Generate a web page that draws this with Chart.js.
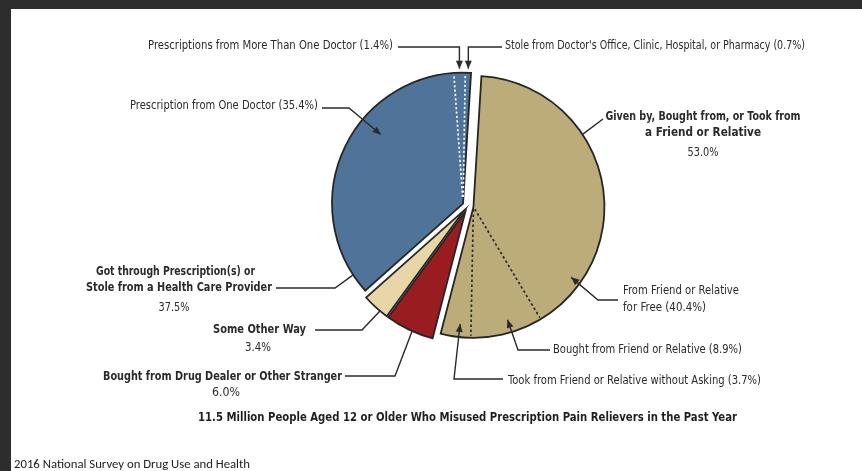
<!DOCTYPE html>
<html>
<head>
<meta charset="utf-8">
<script src="https://cdn.jsdelivr.net/npm/chart.js@4.4.1/dist/chart.umd.min.js"></script>
<style>
  html, body { margin: 0; padding: 0; background: #fff; }
  #wrap { position: relative; width: 862px; height: 471px; overflow: hidden; background: #fff; }
  #wrap canvas { position: absolute; left: 0; top: 0; }
  .bar { position: absolute; background: #2d2d2d; }
</style>
</head>
<body>
<div id="wrap">
  <canvas id="pie" width="862" height="471"></canvas>
  <div class="bar" style="left:0;top:0;width:862px;height:9px"></div>
  <div class="bar" style="left:0;top:0;width:11px;height:471px"></div>
</div>
<script>
// Main sources of misused pain relievers (percent of people), clockwise from the top
const groupLabels = [
  'Given by, Bought from, or Took from a Friend or Relative',
  'Bought from Drug Dealer or Other Stranger',
  'Some Other Way',
  'Got through Prescription(s) or Stole from a Health Care Provider'
];
const groupValues = [53.0, 6.0, 3.4, 37.5];

// Breakdown of the friend / relative slice
const friendLabels = [
  'From Friend or Relative for Free',
  'Bought from Friend or Relative',
  'Took from Friend or Relative without Asking'
];
const friendValues = [40.4, 8.9, 3.7];

// Breakdown of the health care provider slice
const providerLabels = [
  'Prescription from One Doctor',
  'Prescriptions from More Than One Doctor',
  "Stole from Doctor's Office, Clinic, Hospital, or Pharmacy"
];
const providerValues = [35.4, 1.4, 0.7];

const chartTitle = '11.5 Million People Aged 12 or Older Who Misused Prescription Pain Relievers in the Past Year';
const sourceNote = '2016 National Survey on Drug Use and Health';

const sliceColors = ['#bcac79', '#991c20', '#e8d6a8', '#50739a'];
const explode = [5.5, 6, 6, 5.5];

const NARROW = "'Liberation Sans Narrow', 'Arial Narrow', 'DejaVu Sans Condensed', sans-serif";
const INK = '#2a2a2a';

const pct = v => v.toFixed(1) + '%';

// Angle inside a slice, at fraction t of one of its parts
function partAngle(arc, parts, index, t) {
  const total = parts.reduce((a, b) => a + b, 0);
  let before = 0;
  for (let i = 0; i < index; i++) before += parts[i];
  const f = (before + t * parts[index]) / total;
  return arc.startAngle + f * (arc.endAngle - arc.startAngle);
}
function polar(arc, ang, rf) {
  return { x: arc.x + rf * arc.outerRadius * Math.cos(ang), y: arc.y + rf * arc.outerRadius * Math.sin(ang) };
}

// Text drawn to a set width
function fitText(ctx, text, x, y, align, width, font, color) {
  ctx.save();
  ctx.font = font;
  ctx.fillStyle = color || INK;
  ctx.textBaseline = 'middle';
  const w = ctx.measureText(text).width;
  const s = width ? width / w : 1;
  let left = x;
  if (align === 'right') left = x - w * s;
  else if (align === 'center') left = x - (w * s) / 2;
  ctx.translate(left, y);
  ctx.scale(s, 1);
  ctx.textAlign = 'left';
  ctx.fillText(text, 0, 0);
  ctx.restore();
}

const F_REG = '11.5px ' + NARROW;
const F_BOLD = 'bold 11.5px ' + NARROW;
const F_TITLE = 'bold 13px ' + NARROW;

// Callouts: text, leader path and where the leader meets the pie
const callouts = [
  { texts: [{ s: `${providerLabels[1]} (${pct(providerValues[1])})`, x: 393, y: 46, a: 'right', w: 245, f: F_REG }],
    anchor: { arc: 3, parts: providerValues, i: 1, t: 0.5, r: 1.03 }, arrow: true,
    path: tip => [[398, 47], [tip.x, 47]] },
  { texts: [{ s: `${providerLabels[2]} (${pct(providerValues[2])})`, x: 505, y: 46, a: 'left', w: 300, f: F_REG }],
    anchor: { arc: 3, parts: providerValues, i: 2, t: 0.5, r: 1.03 }, arrow: true,
    path: tip => [[502, 47], [tip.x, 47]] },
  { texts: [{ s: `${providerLabels[0]} (${pct(providerValues[0])})`, x: 318, y: 106, a: 'right', w: 188, f: F_REG }],
    anchor: { arc: 3, parts: providerValues, i: 0, t: 0.64, r: 0.82 }, arrow: true,
    path: () => [[322, 108], [349, 108]] },
  { texts: [
      { s: 'Given by, Bought from, or Took from', x: 703, y: 117, a: 'center', w: 195, f: F_BOLD },
      { s: 'a Friend or Relative', x: 703, y: 133, a: 'center', w: 116, f: F_BOLD },
      { s: pct(groupValues[0]), x: 703, y: 153, a: 'center', w: 31, f: F_REG }],
    anchor: { arc: 0, parts: [groupValues[0]], i: 0, t: 0.277, r: 1.0 }, arrow: false,
    path: () => [[603, 119]] },
  { texts: [
      { s: 'From Friend or Relative', x: 623, y: 291, a: 'left', w: 116, f: F_REG },
      { s: `for Free (${pct(friendValues[0])})`, x: 623, y: 308, a: 'left', w: 83, f: F_REG }],
    anchor: { arc: 0, parts: friendValues, i: 0, t: 0.84, r: 0.92 }, arrow: true,
    path: () => [[618, 300], [598, 300]] },
  { texts: [{ s: `${friendLabels[1]} (${pct(friendValues[1])})`, x: 553, y: 350, a: 'left', w: 189, f: F_REG }],
    anchor: { arc: 0, parts: friendValues, i: 1, t: 0.44, r: 0.9 }, arrow: true,
    path: () => [[550, 350], [518, 350]] },
  { texts: [{ s: `${friendLabels[2]} (${pct(friendValues[2])})`, x: 508, y: 381, a: 'left', w: 253, f: F_REG }],
    anchor: { arc: 0, parts: friendValues, i: 2, t: 0.4, r: 0.9 }, arrow: true,
    path: () => [[503, 379], [454, 379]] },
  { texts: [
      { s: 'Got through Prescription(s) or', x: 175.5, y: 272, a: 'center', w: 159, f: F_BOLD },
      { s: 'Stole from a Health Care Provider', x: 179, y: 288, a: 'center', w: 186, f: F_BOLD },
      { s: pct(groupValues[3]), x: 174, y: 308, a: 'center', w: 31, f: F_REG }],
    anchor: { arc: 3, parts: [groupValues[3]], i: 0, t: 0.064, r: 1.0 }, arrow: false,
    path: () => [[276, 288], [335, 288]] },
  { texts: [
      { s: groupLabels[2], x: 306, y: 330, a: 'right', w: 93, f: F_BOLD },
      { s: pct(groupValues[2]), x: 258, y: 348, a: 'center', w: 26, f: F_REG }],
    anchor: { arc: 2, parts: [groupValues[2]], i: 0, t: 0.31, r: 1.0 }, arrow: false,
    path: () => [[315, 330], [362, 330]] },
  { texts: [
      { s: groupLabels[1], x: 342, y: 377, a: 'right', w: 239, f: F_BOLD },
      { s: pct(groupValues[1]), x: 226, y: 393, a: 'center', w: 28, f: F_REG }],
    anchor: { arc: 1, parts: [groupValues[1]], i: 0, t: 0.44, r: 1.0 }, arrow: false,
    path: () => [[345, 376], [395, 376]] }
];

// Pull each main slice out along its own bisector
const explodePlugin = {
  id: 'explode',
  afterUpdate(chart) {
    chart.getDatasetMeta(0).data.forEach((arc, i) => {
      const mid = (arc.startAngle + arc.endAngle) / 2;
      arc.x += explode[i] * Math.cos(mid);
      arc.y += explode[i] * Math.sin(mid);
    });
  }
};

// Dotted dividers for the parts within the two large slices
const partsPlugin = {
  id: 'parts',
  afterDatasetsDraw(chart) {
    const ctx = chart.ctx;
    const arcs = chart.getDatasetMeta(0).data;
    const divide = (arc, parts, color, dash, r0, r1) => {
      for (let i = 0; i < parts.length - 1; i++) {
        const ang = partAngle(arc, parts, i, 1);
        const a = polar(arc, ang, r0), b = polar(arc, ang, r1);
        ctx.save();
        ctx.strokeStyle = color;
        ctx.lineWidth = 1.7;
        ctx.setLineDash(dash);
        ctx.beginPath();
        ctx.moveTo(a.x, a.y);
        ctx.lineTo(b.x, b.y);
        ctx.stroke();
        ctx.restore();
      }
    };
    divide(arcs[0], friendValues, '#2b2b2b', [2.5, 2.5], 0.02, 0.985);
    divide(arcs[3], providerValues, '#f4f6fa', [2.2, 2.2], 0.05, 0.985);
  }
};

// Callout text, leaders and arrowheads, plus the caption lines
const calloutPlugin = {
  id: 'callouts',
  afterDraw(chart) {
    const ctx = chart.ctx;
    const arcs = chart.getDatasetMeta(0).data;
    callouts.forEach(c => {
      c.texts.forEach(t => fitText(ctx, t.s, t.x, t.y, t.a, t.w, t.f));
      const arc = arcs[c.anchor.arc];
      const tip = polar(arc, partAngle(arc, c.anchor.parts, c.anchor.i, c.anchor.t), c.anchor.r);
      const pts = c.path(tip).concat([[tip.x, tip.y]]);
      ctx.save();
      ctx.strokeStyle = INK;
      ctx.lineWidth = 1.4;
      ctx.beginPath();
      ctx.moveTo(pts[0][0], pts[0][1]);
      for (let k = 1; k < pts.length; k++) ctx.lineTo(pts[k][0], pts[k][1]);
      ctx.stroke();
      if (c.arrow) {
        const p = pts[pts.length - 2];
        const dx = tip.x - p[0], dy = tip.y - p[1];
        const len = Math.hypot(dx, dy) || 1;
        const ux = dx / len, uy = dy / len;
        const L = 8, W = 3.5;
        ctx.fillStyle = INK;
        ctx.beginPath();
        ctx.moveTo(tip.x, tip.y);
        ctx.lineTo(tip.x - L * ux - W * uy, tip.y - L * uy + W * ux);
        ctx.lineTo(tip.x - L * ux + W * uy, tip.y - L * uy - W * ux);
        ctx.closePath();
        ctx.fill();
      }
      ctx.restore();
    });
    fitText(ctx, chartTitle, 467.5, 418, 'center', 539, F_TITLE, '#1f1f1f');
    fitText(ctx, sourceNote, 14, 465, 'left', 236, "12px Carlito, 'Open Sans', sans-serif", '#222');
  }
};

new Chart(document.getElementById('pie'), {
  type: 'pie',
  data: {
    labels: groupLabels,
    datasets: [{
      data: groupValues,
      backgroundColor: sliceColors,
      borderColor: '#262626',
      borderWidth: 1.8,
      borderJoinStyle: 'miter',
      radius: 131
    }]
  },
  options: {
    responsive: false,
    animation: false,
    events: [],
    rotation: 3.5,
    layout: { padding: { left: 318, right: 244, top: 56, bottom: 115 } },
    plugins: {
      legend: { display: false },
      tooltip: { enabled: false },
      title: { display: false }
    }
  },
  plugins: [explodePlugin, partsPlugin, calloutPlugin]
});
</script>
</body>
</html>
